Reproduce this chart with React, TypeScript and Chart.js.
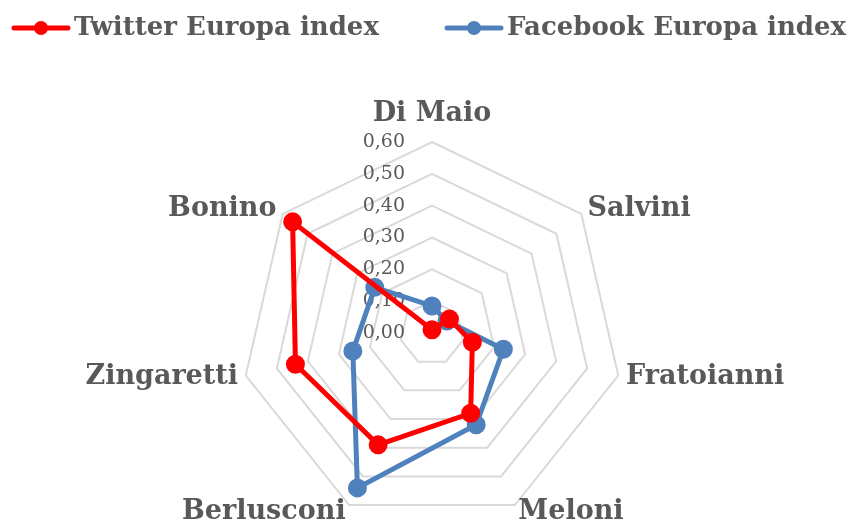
import { useEffect, useRef } from 'react';
import { Chart, registerables } from 'chart.js';

Chart.register(...registerables);

const categories = ['Di Maio', 'Salvini', 'Fratoianni', 'Meloni', 'Berlusconi', 'Zingaretti', 'Bonino'];
const twitterValues = [0.01, 0.07, 0.13, 0.28, 0.39, 0.44, 0.56];
const facebookValues = [0.085, 0.06, 0.23, 0.32, 0.54, 0.255, 0.23];
const tickValues = [0, 0.1, 0.2, 0.3, 0.4, 0.5, 0.6];
const seriesNames = ['Twitter Europa index', 'Facebook Europa index'];
const seriesColors = ['#ff0000', '#4f81bd'];

const FONT = "'DejaVu Serif', serif";
const TEXT = '#595959';

// tick labels to the left of the vertical axis, and category labels around the web
const labelsPlugin = {
  id: 'excelLabels',
  beforeDatasetsDraw(chart: any) {
    const scale = chart.scales.r;
    const ctx = chart.ctx;
    ctx.save();
    ctx.font = `19px ${FONT}`;
    ctx.fillStyle = TEXT;
    ctx.textAlign = 'right';
    ctx.textBaseline = 'middle';
    tickValues.forEach((v) => {
      const d = scale.getDistanceFromCenterForValue(v);
      ctx.fillText(v.toFixed(2).replace('.', ','), scale.xCenter - 27, scale.yCenter - d);
    });
    ctx.font = `bold 27px ${FONT}`;
    const outer = scale.getDistanceFromCenterForValue(scale.max) + 8;
    categories.forEach((name, i) => {
      const p = scale.getPointPosition(i, outer);
      const dx = p.x - scale.xCenter;
      let y = p.y;
      if (Math.abs(dx) < 1) {
        ctx.textAlign = 'center';
        y -= 20;
      } else {
        ctx.textAlign = dx > 0 ? 'left' : 'right';
      }
      ctx.fillText(name, p.x, y);
    });
    ctx.restore();
  },
};

// legend drawn at top: line with dot marker, then label
const legendPlugin = {
  id: 'excelLegend',
  afterDraw(chart: any) {
    const ctx = chart.ctx;
    const starts = [14, 447];
    const y = 28;
    ctx.save();
    seriesNames.forEach((name, i) => {
      const x = starts[i];
      const color = seriesColors[i];
      ctx.strokeStyle = color;
      ctx.lineWidth = 5;
      ctx.lineCap = 'round';
      ctx.beginPath();
      ctx.moveTo(x, y);
      ctx.lineTo(x + 54, y);
      ctx.stroke();
      ctx.fillStyle = color;
      ctx.beginPath();
      ctx.arc(x + 27, y, 7, 0, Math.PI * 2);
      ctx.fill();
      ctx.fillStyle = TEXT;
      ctx.font = `bold 26px ${FONT}`;
      ctx.textAlign = 'left';
      ctx.textBaseline = 'middle';
      ctx.fillText(name, x + 60, y);
    });
    ctx.restore();
  },
};

export default function App() {
  const ref = useRef<HTMLCanvasElement>(null);
  useEffect(() => {
    const chart = new Chart(ref.current!, {
      type: 'radar',
      data: {
        labels: categories,
        datasets: [
          {
            label: seriesNames[0],
            data: twitterValues,
            borderColor: seriesColors[0],
            backgroundColor: seriesColors[0],
            pointBackgroundColor: seriesColors[0],
            pointBorderColor: seriesColors[0],
            borderWidth: 5,
            pointRadius: 7,
            fill: false,
          },
          {
            label: seriesNames[1],
            data: facebookValues,
            borderColor: seriesColors[1],
            backgroundColor: seriesColors[1],
            pointBackgroundColor: seriesColors[1],
            pointBorderColor: seriesColors[1],
            borderWidth: 5,
            pointRadius: 7,
            fill: false,
          },
        ],
      },
      options: {
        responsive: false,
        animation: false,
        layout: { padding: { top: 142, bottom: 2, left: 14, right: 0 } },
        plugins: {
          tooltip: { enabled: false },
          legend: { display: false },
        },
        scales: {
          r: {
            min: 0,
            max: 0.6,
            ticks: { display: false, stepSize: 0.1 },
            grid: { color: '#d9d9d9', lineWidth: 2, circular: false },
            angleLines: { display: false },
            pointLabels: { display: false },
          },
        },
      },
      plugins: [labelsPlugin, legendPlugin],
    });
    return () => chart.destroy();
  }, []);
  return (
    <div style={{ position: 'fixed', left: 0, top: 0, width: 850, height: 526, overflow: 'hidden', background: '#fff' }}>
      <canvas ref={ref} width={850} height={526} />
    </div>
  );
}
